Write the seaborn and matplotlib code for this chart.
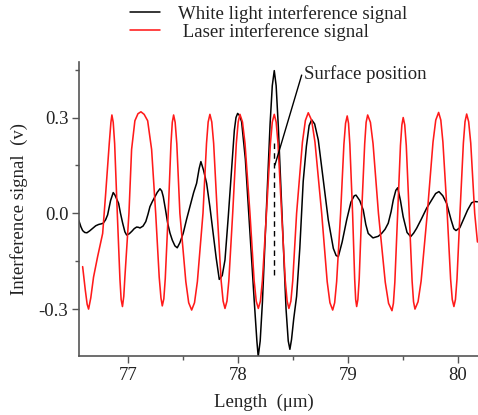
import matplotlib
matplotlib.use("Agg")
import matplotlib.pyplot as plt
import seaborn as sns
import pandas as pd

# ---------------- data ----------------
laser_x = [76.591, 76.615, 76.632, 76.645, 76.665, 76.690, 76.727, 76.773, 76.800, 76.833,
           76.848, 76.857, 76.869, 76.882, 76.906, 76.930, 76.941, 76.953, 76.965, 76.975,
           77.012, 77.036, 77.066, 77.094, 77.121, 77.150, 77.182, 77.218, 77.255, 77.287,
           77.303, 77.315, 77.329, 77.342, 77.369, 77.394, 77.406, 77.418, 77.432, 77.447,
           77.475, 77.529, 77.555, 77.582, 77.608, 77.634, 77.685, 77.717, 77.732, 77.748,
           77.765, 77.782, 77.815, 77.850, 77.868, 77.885, 77.903, 77.920, 77.955, 77.988,
           78.005, 78.021, 78.044, 78.067, 78.112, 78.150, 78.169, 78.188, 78.207, 78.225,
           78.262, 78.298, 78.315, 78.333, 78.350, 78.367, 78.400, 78.433, 78.450, 78.466,
           78.484, 78.501, 78.536, 78.589, 78.616, 78.642, 78.673, 78.703, 78.764, 78.814,
           78.839, 78.864, 78.882, 78.900, 78.936, 78.966, 78.981, 78.996, 79.008, 79.020,
           79.045, 79.064, 79.073, 79.082, 79.093, 79.105, 79.127, 79.155, 79.168, 79.182,
           79.207, 79.231, 79.280, 79.342, 79.372, 79.403, 79.416, 79.429, 79.455, 79.480,
           79.493, 79.505, 79.519, 79.533, 79.560, 79.586, 79.599, 79.612, 79.640, 79.668,
           79.724, 79.776, 79.801, 79.827, 79.847, 79.866, 79.905, 79.936, 79.951, 79.966,
           79.980, 79.994, 80.021, 80.052, 80.067, 80.082, 80.100, 80.119, 80.155, 80.180]
laser_y = [-0.167, -0.240, -0.285, -0.300, -0.265, -0.200, -0.136, -0.063, 0.060, 0.219,
           0.285, 0.308, 0.285, 0.218, 0.000, -0.206, -0.270, -0.292, -0.260, -0.200,
           0.000, 0.200, 0.290, 0.312, 0.318, 0.310, 0.290, 0.200, 0.000, -0.200,
           -0.265, -0.290, -0.268, -0.205, 0.000, 0.218, 0.285, 0.308, 0.285, 0.218,
           0.000, -0.214, -0.280, -0.303, -0.280, -0.214, 0.000, 0.219, 0.286, 0.310,
           0.286, 0.219, 0.000, -0.211, -0.275, -0.298, -0.275, -0.211, 0.000, 0.219,
           0.286, 0.310, 0.286, 0.219, 0.000, -0.211, -0.275, -0.298, -0.275, -0.211,
           0.000, 0.219, 0.286, 0.310, 0.286, 0.219, 0.000, -0.211, -0.275, -0.298,
           -0.275, -0.211, 0.000, 0.223, 0.291, 0.315, 0.291, 0.223, 0.000, -0.214,
           -0.280, -0.303, -0.280, -0.214, 0.000, 0.216, 0.282, 0.305, 0.282, 0.216,
           0.000, -0.206, -0.270, -0.292, -0.270, -0.206, 0.000, 0.218, 0.285, 0.308,
           0.285, 0.218, 0.000, -0.216, -0.282, -0.305, -0.282, -0.216, 0.000, 0.212,
           0.277, 0.300, 0.277, 0.212, 0.000, -0.212, -0.277, -0.300, -0.277, -0.212,
           0.000, 0.223, 0.292, 0.316, 0.292, 0.223, 0.000, -0.206, -0.270, -0.292,
           -0.270, -0.206, 0.000, 0.220, 0.287, 0.311, 0.287, 0.220, 0.000, -0.090]

white_x = [76.555, 76.575, 76.591, 76.610, 76.630, 76.655, 76.682, 76.710, 76.736, 76.760,
           76.778, 76.800, 76.818, 76.845, 76.869, 76.885, 76.900, 76.918, 76.935, 76.955,
           76.975, 76.991, 77.015, 77.039, 77.060, 77.082, 77.100, 77.112, 77.140, 77.165,
           77.185, 77.203, 77.225, 77.248, 77.270, 77.294, 77.310, 77.324, 77.345, 77.364,
           77.385, 77.406, 77.430, 77.451, 77.475, 77.505, 77.535, 77.566, 77.600, 77.627,
           77.650, 77.666, 77.690, 77.718, 77.748, 77.778, 77.805, 77.833, 77.860, 77.885,
           77.915, 77.945, 77.970, 77.985, 78.000, 78.018, 78.036, 78.070, 78.112, 78.150,
           78.175, 78.187, 78.205, 78.225, 78.260, 78.295, 78.315, 78.333, 78.350, 78.370,
           78.403, 78.440, 78.460, 78.475, 78.490, 78.510, 78.536, 78.565, 78.596, 78.625,
           78.650, 78.673, 78.700, 78.733, 78.780, 78.824, 78.870, 78.895, 78.915, 78.950,
           78.991, 79.030, 79.060, 79.076, 79.110, 79.142, 79.165, 79.187, 79.230, 79.278,
           79.309, 79.340, 79.369, 79.395, 79.415, 79.438, 79.455, 79.480, 79.505, 79.540,
           79.573, 79.600, 79.627, 79.670, 79.718, 79.770, 79.800, 79.830, 79.865, 79.900,
           79.940, 79.965, 79.985, 80.020, 80.051, 80.090, 80.127, 80.155, 80.180]
white_y = [-0.021, -0.042, -0.054, -0.060, -0.061, -0.055, -0.047, -0.039, -0.035, -0.033,
           -0.031, -0.020, -0.005, 0.040, 0.065, 0.057, 0.045, 0.031, 0.000, -0.031,
           -0.058, -0.068, -0.064, -0.056, -0.048, -0.043, -0.044, -0.046, -0.040, -0.026,
           -0.003, 0.021, 0.037, 0.052, 0.066, 0.077, 0.070, 0.052, 0.010, -0.031,
           -0.062, -0.084, -0.102, -0.108, -0.092, -0.063, -0.020, 0.021, 0.065, 0.094,
           0.140, 0.162, 0.135, 0.094, 0.020, -0.063, -0.140, -0.207, -0.195, -0.146,
           -0.010, 0.136, 0.260, 0.300, 0.313, 0.306, 0.287, 0.170, -0.063, -0.270,
           -0.400, -0.449, -0.400, -0.280, 0.000, 0.280, 0.400, 0.447, 0.400, 0.270,
           0.000, -0.300, -0.400, -0.426, -0.395, -0.330, -0.260, -0.110, 0.100, 0.210,
           0.275, 0.293, 0.280, 0.230, 0.100, -0.021, -0.110, -0.132, -0.136, -0.090,
           -0.021, 0.035, 0.055, 0.057, 0.040, 0.010, -0.035, -0.063, -0.077, -0.072,
           -0.063, -0.050, -0.031, 0.005, 0.042, 0.072, 0.080, 0.040, -0.011, -0.060,
           -0.073, -0.062, -0.047, -0.018, 0.016, 0.045, 0.062, 0.068, 0.055, 0.031,
           -0.020, -0.048, -0.054, -0.045, -0.021, 0.010, 0.033, 0.037, 0.036]

series_labels = ["White light interference signal", " Laser interference signal"]
x_major = [77, 78, 79, 80]
x_minor = [77.5, 78.5, 79.5]
y_major = [-0.3, 0.0, 0.3]
y_major_labels = ["-0.3", "0.0", "0.3"]
y_minor = [-0.15, 0.15, 0.45]
surface_x = 78.333
annot_text = "Surface position"

# ---------------- style ----------------
sns.set_style("ticks")
plt.rcParams["font.family"] = ["Liberation Serif", "DejaVu Serif"]
plt.rcParams["axes.unicode_minus"] = False
TXT = "#222222"
SPINE = "#555555"
FS = 13.5

fig = plt.figure(figsize=(4.78, 4.15), dpi=100)
ax = fig.add_axes([0.1646, 0.141, 0.8354, 0.7096])

df_w = pd.DataFrame({"x": white_x, "y": white_y})
df_l = pd.DataFrame({"x": laser_x, "y": laser_y})
sns.lineplot(data=df_w, x="x", y="y", ax=ax, color="black", lw=1.1,
             estimator=None, sort=False, label=series_labels[0])
sns.lineplot(data=df_l, x="x", y="y", ax=ax, color="#ff1a1a", lw=1.15,
             estimator=None, sort=False, label=series_labels[1])

ax.set_xlim(76.555, 80.185)
ax.set_ylim(-0.4485, 0.474)

# dashed surface marker and annotation
ax.plot([surface_x, surface_x], [0.22, -0.2], color="black", lw=1.0, ls=(0, (4, 3)))
ax.plot([78.582, 78.339], [0.433, 0.151], color="black", lw=1.0)
ax.text(78.605, 0.436, annot_text, ha="left", va="center", fontsize=FS, color=TXT)

# ticks
ax.set_xticks(x_major)
ax.set_xticklabels([str(v) for v in x_major])
ax.set_xticks(x_minor, minor=True)
ax.set_yticks(y_major)
ax.set_yticklabels(y_major_labels)
ax.set_yticks(y_minor, minor=True)
ax.tick_params(axis="both", which="major", direction="out", length=5, width=1.0,
               color=SPINE, labelsize=FS, labelcolor=TXT, pad=2.5)
ax.tick_params(axis="both", which="minor", direction="out", length=3, width=1.0,
               color=SPINE)

sns.despine(ax=ax)
for s in ("left", "bottom"):
    ax.spines[s].set_color(SPINE)
    ax.spines[s].set_linewidth(1.2)

ax.set_xlabel("Length  (μm)", fontsize=FS, color=TXT)
ax.set_ylabel("Interference signal  (v)", fontsize=FS, color=TXT)
ax.xaxis.set_label_coords(0.465, -0.125)
ax.yaxis.set_label_coords(-0.128, 0.5)

leg = ax.legend(loc="upper left", bbox_to_anchor=(130 / 478, 1 - 5 / 415),
                bbox_transform=fig.transFigure, frameon=False, fontsize=FS,
                handlelength=1.6, handletextpad=0.95, labelspacing=0.0,
                borderpad=0, borderaxespad=0)
for t in leg.get_texts():
    t.set_color(TXT)

fig.savefig("out.png", dpi=100)
